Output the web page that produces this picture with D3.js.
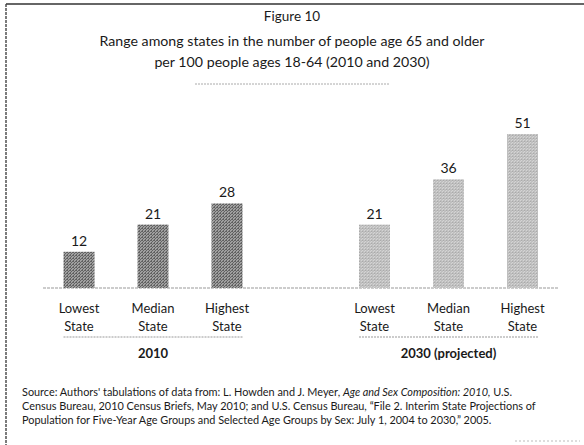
<!DOCTYPE html>
<html>
<head>
<meta charset="utf-8">
<script src="https://cdn.jsdelivr.net/npm/d3@7"></script>
<style>
	body { margin: 0; background: #fff; }
	text { font-family: Lato, "Open Sans", sans-serif; fill: #1a1a1a; }
</style>
</head>
<body>
<svg id="chart" width="584" height="445"></svg>
<script>
// values
var categories = ["Lowest State", "Median State", "Highest State"];
var groups = ["2010", "2030 (projected)"];
var values2010 = [12, 21, 28];
var values2030 = [21, 36, 51];
var titleLines = ["Range among states in the number of people age 65 and older",
	"per 100 people ages 18-64 (2010 and 2030)"];
var sourceLines = [
	["Source: Authors' tabulations of data from: L. Howden and J. Meyer, ", "Age and Sex Composition: 2010,", " U.S."],
	["Census Bureau, 2010 Census Briefs, May 2010; and U.S. Census Bureau, \u201cFile 2. Interim State Projections of"],
	["Population for Five-Year Age Groups and Selected Age Groups by Sex: July 1, 2004 to 2030,\u201d  2005."]
];

var svg = d3.select("#chart");
var series = [values2010, values2030];

// frame (top and left edge of the scanned box)
svg.append("line").attr("x1", 6).attr("x2", 584).attr("y1", 4).attr("y2", 4)
	.attr("stroke", "#333").attr("stroke-width", 1.6);
svg.append("line").attr("x1", 6).attr("x2", 6).attr("y1", 4).attr("y2", 445)
	.attr("stroke", "#444").attr("stroke-width", 1.4).attr("stroke-dasharray", "3,1");
svg.append("line").attr("x1", 515).attr("x2", 580).attr("y1", 441).attr("y2", 441)
	.attr("stroke", "#bbb").attr("stroke-width", 1).attr("stroke-dasharray", "2,2");

// halftone-ish fills
var defs = svg.append("defs");
function stipple(id, dark, light) {
	var p = defs.append("pattern").attr("id", id).attr("width", 3).attr("height", 3)
		.attr("patternUnits", "userSpaceOnUse");
	p.append("rect").attr("width", 3).attr("height", 3).attr("fill", light);
	[[0, 0], [2, 1], [1, 2], [1, 0]].forEach(function(c) {
		p.append("rect").attr("x", c[0]).attr("y", c[1]).attr("width", 1).attr("height", 1).attr("fill", dark);
	});
}
stipple("fill2010", "#626262", "#a0a0a0");
stipple("fill2030", "#aaaaaa", "#d4d4d4");

// titles
svg.append("text").attr("x", 292).attr("y", 21).attr("text-anchor", "middle")
	.style("font-size", "13.5px").text("Figure 10");
svg.append("g").selectAll("text")
	.data(titleLines)
	.enter().append("text")
		.attr("x", 292)
		.attr("y", (d, i) => 46 + i * 21)
		.attr("text-anchor", "middle")
		.style("font-size", "14.2px")
		.text(d => d);
svg.append("line").attr("x1", 195).attr("x2", 390).attr("y1", 84).attr("y2", 84)
	.attr("stroke", "#aaa").attr("stroke-width", 1).attr("stroke-dasharray", "2,1");

// scales
var y = d3.scaleLinear().domain([0, 51]).range([288, 134]);
var xGroup = d3.scalePoint().domain(groups).range([153, 448.5]);
var xCat = d3.scalePoint().domain(categories).range([-74, 74]);
var barW = 31;

// baseline
svg.append("line").attr("x1", 43).attr("x2", 558).attr("y1", y(0)).attr("y2", y(0))
	.attr("stroke", "#999").attr("stroke-width", 1).attr("stroke-dasharray", "3,1");

var g = svg.append("g").selectAll("g")
	.data(groups)
	.enter().append("g")
		.attr("transform", d => `translate(${xGroup(d)},0)`);

g.each(function(grp, gi) {
	var sel = d3.select(this);
	var rows = categories.map((c, i) => ({cat: c, val: series[gi][i]}));

	sel.selectAll("rect")
		.data(rows)
		.enter().append("rect")
			.attr("x", d => xCat(d.cat) - barW / 2)
			.attr("y", d => y(d.val))
			.attr("width", barW)
			.attr("height", d => y(0) - y(d.val))
			.attr("fill", gi == 0 ? "url(#fill2010)" : "url(#fill2030)");

	sel.selectAll("text.val")
		.data(rows)
		.enter().append("text")
			.attr("class", "val")
			.attr("x", d => xCat(d.cat))
			.attr("y", d => y(d.val) - 6)
			.attr("text-anchor", "middle")
			.style("font-size", "14px")
			.text(d => d.val);

	var lab = sel.selectAll("text.cat")
		.data(rows)
		.enter().append("text")
			.attr("class", "cat")
			.attr("text-anchor", "middle")
			.style("font-size", "13px");
	lab.append("tspan").attr("x", d => xCat(d.cat)).attr("y", 313).text(d => d.cat.split(" ")[0]);
	lab.append("tspan").attr("x", d => xCat(d.cat)).attr("y", 331).text(d => d.cat.split(" ")[1]);

	// group underline and label
	sel.append("line")
		.attr("x1", xCat(categories[0]) - barW / 2)
		.attr("x2", xCat(categories[categories.length - 1]) + barW / 2)
		.attr("y1", 337).attr("y2", 337)
		.attr("stroke", "#999").attr("stroke-width", 1).attr("stroke-dasharray", "2,1");
	sel.append("text")
		.attr("x", 0).attr("y", 358)
		.attr("text-anchor", "middle")
		.style("font-size", "13px").style("font-weight", "bold")
		.text(grp);
});

// source note
var src = svg.append("g").selectAll("text")
	.data(sourceLines)
	.enter().append("text")
		.attr("x", 22)
		.attr("y", (d, i) => 396 + i * 14)
		.style("font-size", "10.9px");
src.selectAll("tspan")
	.data(d => d)
	.enter().append("tspan")
		.style("font-style", (d, i) => i == 1 ? "italic" : null)
		.text(d => d);
</script>
</body>
</html>
